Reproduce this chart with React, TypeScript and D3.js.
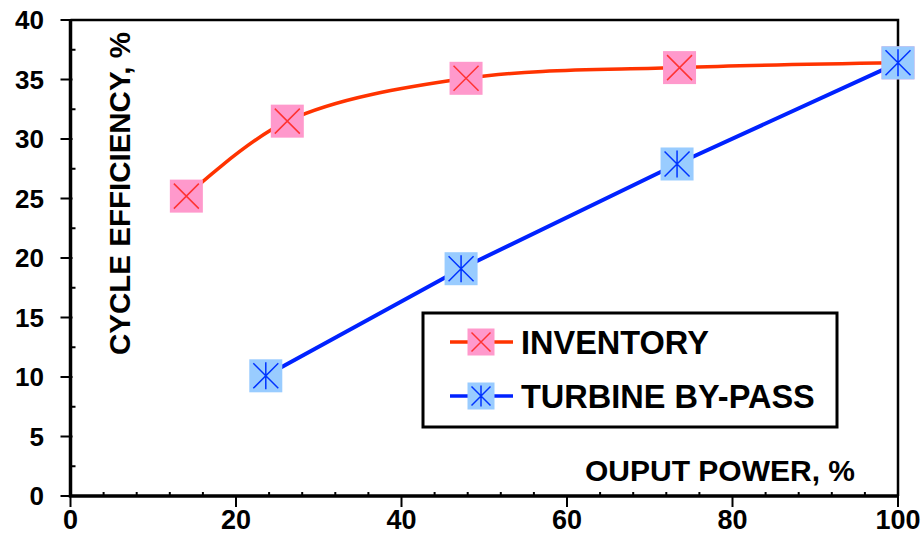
import React, { useEffect, useRef } from 'react';
import * as d3 from 'd3';

// values
const inventoryX = [14, 26.2, 47.8, 73.6, 100];
const inventoryY = [25.2, 31.5, 35.1, 36.0, 36.4];
const bypassX = [23.6, 47.2, 73.3, 100];
const bypassY = [10.1, 19.1, 27.9, 36.4];
const xTicks = [0, 20, 40, 60, 80, 100];
const yTicks = [0, 5, 10, 15, 20, 25, 30, 35, 40];

const FONT = '"Liberation Sans", Arial, sans-serif';

const App = () => {
    const ref = useRef<SVGSVGElement>(null);

    useEffect(() => {
        const svg = d3.select(ref.current);
        svg.selectAll('*').remove();

        const x = d3.scaleLinear().domain([0, 100]).range([70.5, 898]);
        const y = d3.scaleLinear().domain([0, 40]).range([496, 20]);

        // frame (top + right)
        svg.append('path')
            .attr('d', `M${x(0)},${y(40)}H${x(100)}V${y(0)}`)
            .attr('fill', 'none')
            .attr('stroke', '#000')
            .attr('stroke-width', 2.5);

        // minor ticks, inside
        const g = svg.append('g').attr('stroke', '#000').attr('stroke-width', 2);
        d3.range(4, 100, 4).filter(v => v % 20 !== 0).forEach(v => {
            g.append('line').attr('x1', x(v)).attr('x2', x(v)).attr('y1', y(0)).attr('y2', y(0) - 4);
        });
        d3.range(2.5, 40, 5).forEach(v => {
            g.append('line').attr('x1', x(0)).attr('x2', x(0) + 5).attr('y1', y(v)).attr('y2', y(v));
        });
        // major ticks, outside
        xTicks.forEach(v => {
            g.append('line').attr('x1', x(v)).attr('x2', x(v)).attr('y1', y(0)).attr('y2', y(0) + 11);
        });
        yTicks.forEach(v => {
            g.append('line').attr('x1', x(0) - 10).attr('x2', x(0) + 2).attr('y1', y(v)).attr('y2', y(v));
        });

        // axis lines
        svg.append('path')
            .attr('d', `M${x(0)},${y(40)}V${y(0)}H${x(100)}`)
            .attr('fill', 'none')
            .attr('stroke', '#000')
            .attr('stroke-width', 3.5);

        // tick labels
        svg.append('g').selectAll('text').data(yTicks).enter().append('text')
            .attr('x', 44)
            .attr('y', d => y(d))
            .attr('dy', '0.36em')
            .attr('text-anchor', 'end')
            .attr('font-family', FONT)
            .attr('font-weight', 'bold')
            .attr('font-size', 26)
            .text(d => d);

        svg.append('g').selectAll('text').data(xTicks).enter().append('text')
            .attr('x', d => x(d))
            .attr('y', 529)
            .attr('text-anchor', 'middle')
            .attr('font-family', FONT)
            .attr('font-weight', 'bold')
            .attr('font-size', 27)
            .text(d => d);

        // axis titles
        svg.append('text')
            .attr('transform', `translate(130,${(32 + 355) / 2}) rotate(-90)`)
            .attr('text-anchor', 'middle')
            .attr('font-family', FONT)
            .attr('font-size', 29.5)
            .attr('font-weight', 'bold')
            .text('CYCLE EFFICIENCY, %');

        svg.append('text')
            .attr('x', 855)
            .attr('y', 481)
            .attr('text-anchor', 'end')
            .attr('font-family', FONT)
            .attr('font-size', 30)
            .attr('font-weight', 'bold')
            .text('OUPUT POWER, %');

        // lines
        const invPts = inventoryX.map((v, i) => [x(v), y(inventoryY[i])] as [number, number]);
        const byPts = bypassX.map((v, i) => [x(v), y(bypassY[i])] as [number, number]);

        svg.append('path')
            .attr('d', d3.line().curve(d3.curveCatmullRom.alpha(0.5))(invPts))
            .attr('fill', 'none')
            .attr('stroke', '#ff3300')
            .attr('stroke-width', 3.5);

        svg.append('path')
            .attr('d', d3.line()(byPts))
            .attr('fill', 'none')
            .attr('stroke', '#0022ff')
            .attr('stroke-width', 4);

        const crossMarker = (sel, cx: number, cy: number, s: number) => {
            const h = s / 2;
            const k = h - 4;
            sel.append('rect').attr('x', cx - h).attr('y', cy - h).attr('width', s).attr('height', s)
                .attr('fill', '#ff99cc');
            sel.append('path')
                .attr('d', `M${cx - k},${cy - k}L${cx + k},${cy + k}M${cx - k},${cy + k}L${cx + k},${cy - k}`)
                .attr('stroke', '#ff3333').attr('stroke-width', 1.5);
        };
        const starMarker = (sel, cx: number, cy: number, s: number) => {
            const h = s / 2;
            const k = h - 4;
            sel.append('rect').attr('x', cx - h).attr('y', cy - h).attr('width', s).attr('height', s)
                .attr('fill', '#99ccff');
            sel.append('path')
                .attr('d', `M${cx},${cy - k - 1}V${cy + k + 1}M${cx - k},${cy - k}L${cx + k},${cy + k}M${cx - k},${cy + k}L${cx + k},${cy - k}`)
                .attr('stroke', '#0033ff').attr('stroke-width', 1.5);
        };

        const mk = svg.append('g');
        invPts.forEach(p => crossMarker(mk, p[0], p[1], 33));
        byPts.forEach(p => starMarker(mk, p[0], p[1], 33));

        // legend
        const lg = svg.append('g');
        lg.append('rect')
            .attr('x', 423).attr('y', 313).attr('width', 414).attr('height', 114)
            .attr('fill', '#fff').attr('stroke', '#000').attr('stroke-width', 3);
        const entries = [
            { label: 'INVENTORY', color: '#ff3300', marker: crossMarker, yy: 342 },
            { label: 'TURBINE BY-PASS', color: '#0022ff', marker: starMarker, yy: 396 },
        ];
        entries.forEach(e => {
            lg.append('line').attr('x1', 450).attr('x2', 513).attr('y1', e.yy).attr('y2', e.yy)
                .attr('stroke', e.color).attr('stroke-width', 3.5);
            e.marker(lg, 481, e.yy, 27);
            lg.append('text')
                .attr('x', 521).attr('y', e.yy).attr('dy', '0.36em')
                .attr('font-family', FONT).attr('font-size', 32.5).attr('font-weight', 'bold')
                .text(e.label);
        });
    }, []);

    return (
        <svg ref={ref} width={922} height={556}
            style={{ position: 'absolute', left: 0, top: 0, background: '#fff' }} />
    );
};

export default App;
